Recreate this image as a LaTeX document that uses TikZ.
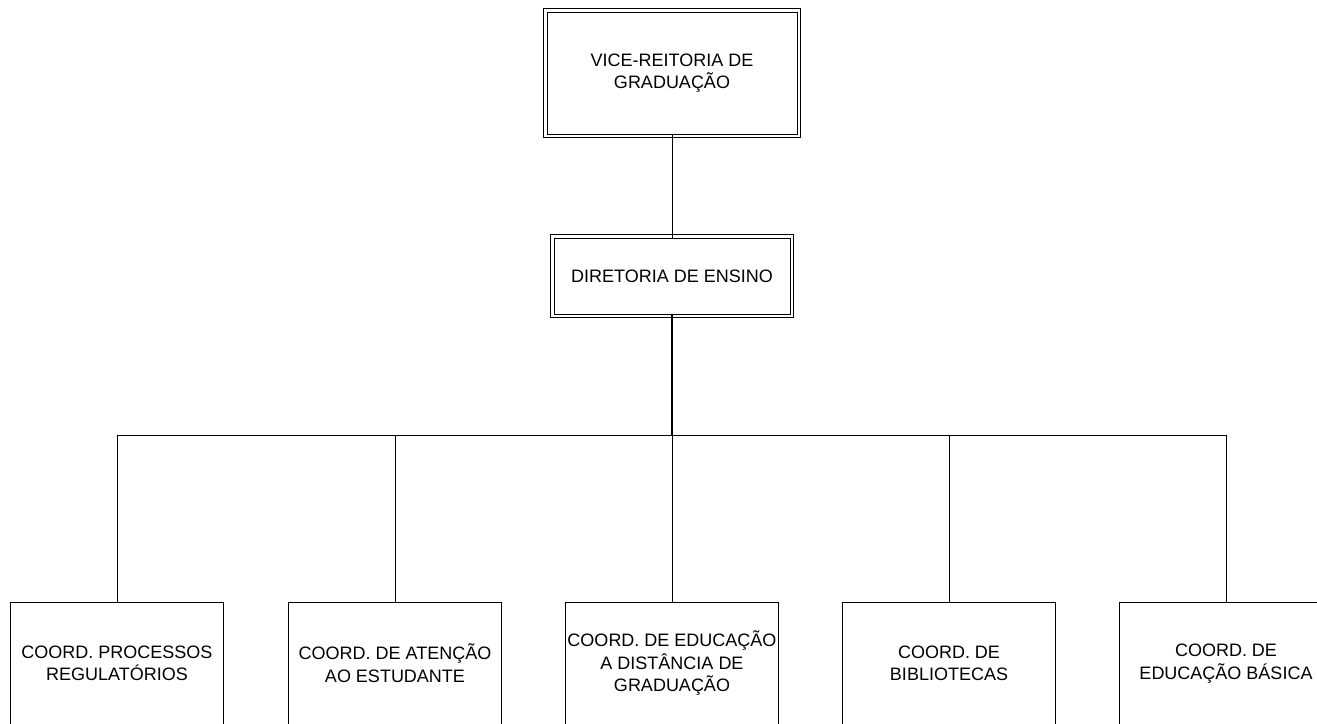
\documentclass[tikz,border=0pt]{standalone}
\usepackage{fontspec}
\setmainfont{Liberation Sans}
\begin{document}
\begin{tikzpicture}[x=1pt,y=-1pt,
  font=\fontsize{18}{22.5}\selectfont,
  dupla/.style={draw, line width=0.8pt, align=center, inner sep=0pt},
  caixa/.style={draw, line width=0.8pt, align=center, inner sep=0pt, minimum width=213pt, minimum height=122pt, anchor=north}]
\useasboundingbox (0,0) rectangle (1317,723);
\clip (0,0) rectangle (1317,723);

\node[dupla, minimum width=250pt, minimum height=122pt] (vice) at (672,73) {VICE-REITORIA DE\\GRADUAÇÃO};
\node[dupla, minimum width=236pt, minimum height=76pt] (diretoria) at (672,276) {DIRETORIA DE ENSINO};
% moldura externa
\foreach \n in {vice,diretoria}
  \draw[line width=0.8pt] ([xshift=-3pt,yshift=3pt]\n.north west) rectangle ([xshift=3pt,yshift=-3pt]\n.south east);

\node[caixa] (proc) at (117,602) {COORD. PROCESSOS\\REGULATÓRIOS};
\node[caixa] (atencao) at (395,602) {COORD. DE ATENÇÃO\\AO ESTUDANTE};
\node[caixa] (ead) at (672,602) {COORD. DE EDUCAÇÃO\\A DISTÂNCIA DE\\GRADUAÇÃO};
\node[caixa] (bib) at (949,602) {COORD. DE\\BIBLIOTECAS};
\node[caixa] (basica) at (1226,602) {COORD. DE\\EDUCAÇÃO BÁSICA};

\coordinate (barra) at (672,435);

\draw[line width=0.8pt] (vice) -- (diretoria);
\draw[line width=1.6pt] (diretoria) -- (barra);
\foreach \n in {proc,atencao,ead,bib,basica}
  \draw[line width=0.8pt] (barra) -| (\n.north);
\end{tikzpicture}
\end{document}
